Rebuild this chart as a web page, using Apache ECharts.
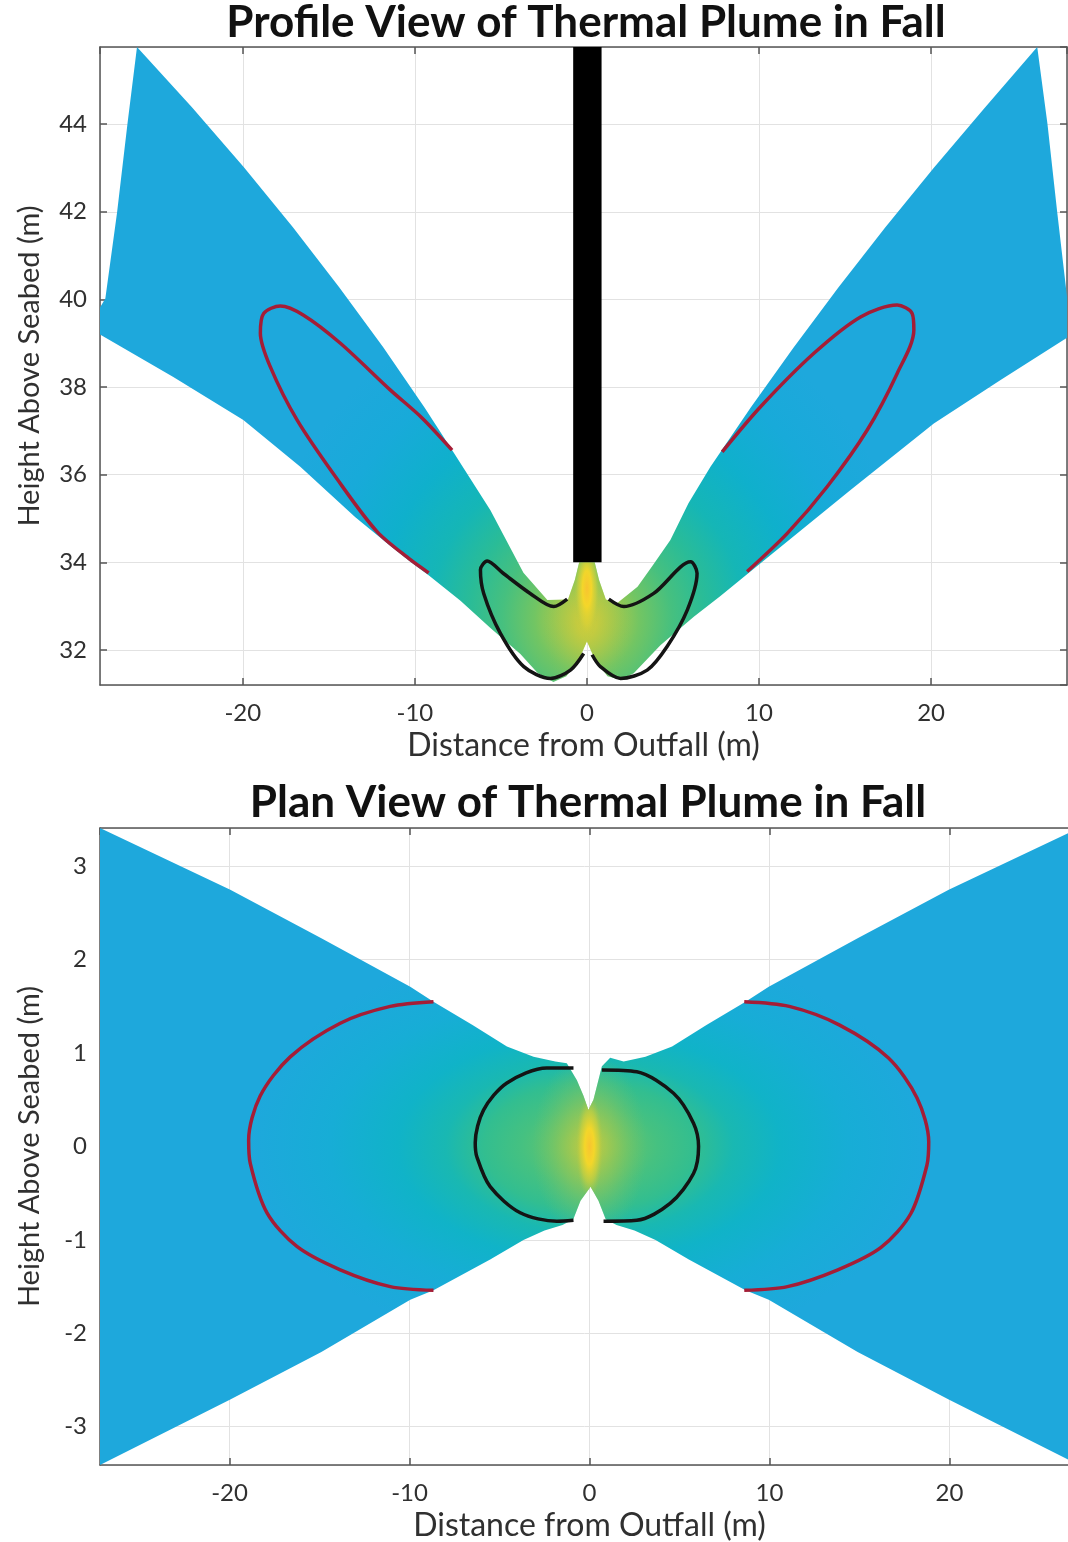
<!DOCTYPE html>
<html>
<head>
<meta charset="utf-8">
<script src="https://cdn.jsdelivr.net/npm/echarts@6/dist/echarts.min.js"></script>
<style>
  html, body { margin: 0; padding: 0; background: #fff; }
  #main { width: 1068px; height: 1542px; }
</style>
</head>
<body>
<div id="main"></div>
<script>
// ---- profile view (top panel), [distance m, height m] ----
var profilePlume = [
  // left arm, outer tip then lower edge
  [-26.15, 45.76], [-26.7, 44.02], [-27.31, 41.98], [-27.99, 40.02], [-28.4, 39.75], [-28.4, 39.22],
  [-24.04, 38.23], [-19.97, 37.25], [-16.66, 36.18], [-13.46, 35.03], [-11.42, 34.37],
  [-10.26, 34.01], [-9.22, 33.71], [-7.35, 33.12], [-5.61, 32.5], [-3.87, 31.91], [-2.88, 31.48],
  [-1.95, 31.27], [-1.2, 31.4], [-0.5, 31.75], [0, 32.2],
  // right arm, lower edge then outer tip
  [0.5, 31.75], [1.2, 31.4], [1.95, 31.32], [2.72, 31.47], [4.27, 32.11], [6.21, 32.76],
  [7.76, 33.23], [10.09, 33.98], [15.32, 35.65], [20.16, 37.17], [24.04, 38.16], [28.0, 39.15],
  [28.0, 39.7], [27.92, 39.99], [27.34, 41.96], [26.76, 44.02], [26.17, 45.76],
  // right arm inner edge down to the jet
  [23.11, 44.37], [20.15, 43.0], [17.31, 41.63], [14.59, 40.26], [11.99, 38.89], [9.5, 37.52],
  [7.18, 36.18], [5.9, 35.35], [4.85, 34.51], [3.81, 33.92], [2.94, 33.44],
  [1.77, 33.07], [1.1, 33.15], [0.7, 33.6], [0.45, 34.0],
  // jet, then left arm inner edge up to the tip
  [-0.45, 34.0], [-0.7, 33.6], [-1.1, 33.15], [-2.3, 33.14], [-3.69, 33.76], [-5.61, 35.19],
  [-7.72, 36.49], [-9.45, 37.54], [-11.84, 38.91], [-14.4, 40.28], [-17.1, 41.65],
  [-19.95, 43.02], [-22.97, 44.39]
];
var profileStackX = [-0.8, 0.85];
var profileStackY = [34.0, 45.8];
var profileRedLeft = [
  [-7.84, 36.56], [-9.6, 37.3], [-11.42, 37.93], [-14.33, 39.0], [-16.47, 39.64], [-17.82, 39.85],
  [-18.79, 39.68], [-18.98, 39.23], [-18.4, 38.46], [-16.85, 37.25], [-14.52, 35.9],
  [-12.2, 34.7], [-10.26, 34.06], [-9.2, 33.76]
];
var profileRedRight = [
  [7.86, 36.52], [10.09, 37.55], [13.19, 38.77], [15.9, 39.6], [18.03, 39.87], [18.9, 39.68],
  [19.0, 39.3], [18.03, 38.31], [16.29, 37.02], [13.97, 35.73], [11.64, 34.66], [9.31, 33.79]
];
var profileBlackLeft = [
  [-1.15, 33.16], [-1.93, 32.99], [-3.3, 33.29], [-4.87, 33.75], [-5.8, 34.03], [-6.19, 33.83],
  [-6.0, 33.29], [-5.03, 32.38], [-3.67, 31.62], [-2.12, 31.35], [-0.96, 31.54], [-0.19, 31.92]
];
var profileBlackRight = [
  [1.27, 33.16], [2.14, 32.99], [3.88, 33.29], [6.02, 34.01], [6.4, 33.75], [5.83, 32.91],
  [4.66, 32.08], [3.5, 31.54], [1.95, 31.35], [0.78, 31.62], [0.3, 31.89]
];
var profileCore = [0, 32.7];
var profileJet = [0, 33.4];

// ---- plan view (bottom panel), [distance m, offset m] ----
var planPlume = [
  [-27.2, 3.41], [-19.96, 2.75], [-14.9, 2.23], [-9.96, 1.71], [-8.67, 1.55], [-6.5, 1.3],
  [-4.59, 1.07], [-3.11, 0.96], [-1.9, 0.91], [-1.26, 0.89], [-0.7, 0.71], [-0.33, 0.54],
  [-0.06, 0.39], [0.22, 0.5], [0.69, 0.86], [1.15, 0.95], [1.9, 0.91], [3.11, 0.96],
  [4.59, 1.07], [6.5, 1.3], [8.67, 1.55], [9.96, 1.71], [14.9, 2.23], [19.96, 2.75], [27.2, 3.41],
  [27.2, -3.41], [19.96, -2.71], [14.9, -2.2], [9.96, -1.64], [8.67, -1.54], [5.52, -1.21],
  [3.67, -1.0], [2.5, -0.9], [1.5, -0.84], [0.9, -0.78], [0.5, -0.58], [0.06, -0.43],
  [-0.5, -0.58], [-0.9, -0.78], [-1.5, -0.84], [-2.5, -0.9], [-3.67, -1.0], [-5.52, -1.21],
  [-8.67, -1.54], [-9.96, -1.64], [-14.9, -2.2], [-19.96, -2.71], [-27.2, -3.41]
];
var planRedLeft = [
  [-8.67, 1.55], [-11.07, 1.5], [-13.85, 1.32], [-16.63, 0.96], [-18.3, 0.54], [-18.94, 0.07],
  [-18.85, -0.18], [-17.92, -0.71], [-16.26, -1.07], [-13.85, -1.32], [-11.07, -1.5], [-8.67, -1.54]
];
var planRedRight = [
  [8.6, 1.55], [11.1, 1.5], [13.9, 1.3], [16.6, 0.95], [18.2, 0.52], [18.85, 0.05],
  [18.75, -0.2], [17.85, -0.72], [16.2, -1.08], [13.8, -1.32], [11.0, -1.5], [8.6, -1.54]
];
var planBlackLeft = [
  [-0.89, 0.84], [-2.37, 0.84], [-4.59, 0.68], [-5.89, 0.39], [-6.35, 0.04], [-6.26, -0.11],
  [-5.52, -0.43], [-3.85, -0.71], [-1.81, -0.8], [-0.89, -0.79]
];
var planBlackRight = [
  [0.69, 0.82], [2.63, 0.8], [4.67, 0.57], [5.78, 0.25], [6.06, 0], [5.78, -0.29],
  [4.48, -0.61], [2.63, -0.79], [0.78, -0.8]
];
var planCore = [0, 0];

// colour ramps (parula-like)
var profileBase = [
  { offset: 0, color: '#d9cd36' }, { offset: 0.08, color: '#a9c94a' },
  { offset: 0.16, color: '#72c563' }, { offset: 0.26, color: '#46c07f' },
  { offset: 0.36, color: '#2abc97' }, { offset: 0.48, color: '#15b6b6' },
  { offset: 0.64, color: '#0fb0cc' }, { offset: 0.82, color: '#18aad9' },
  { offset: 1, color: '#1ea8dc' }
];
var planBase = [
  { offset: 0, color: '#86c75c' }, { offset: 0.1, color: '#5fc470' },
  { offset: 0.2, color: '#45c181' }, { offset: 0.31, color: '#32be90' },
  { offset: 0.42, color: '#19b8b2' }, { offset: 0.56, color: '#10b3c8' },
  { offset: 0.76, color: '#17add6' }, { offset: 1, color: '#1ea8dc' }
];
var warmGlow = [
  { offset: 0, color: 'rgba(215,205,55,0.85)' }, { offset: 0.5, color: 'rgba(170,200,75,0.45)' },
  { offset: 1, color: 'rgba(120,195,100,0)' }
];
var hotCore = [
  { offset: 0, color: 'rgba(248,196,48,1)' }, { offset: 0.35, color: 'rgba(247,215,40,0.95)' },
  { offset: 0.7, color: 'rgba(215,210,55,0.55)' }, { offset: 1, color: 'rgba(170,200,75,0)' }
];

var FONT = 'Lato';
var TXT = '#303030';

// polygon clipped to its outline, filled with an elliptical radial gradient
function shadedPolygon(outline, centre, radius, stops) {
  return function (params, api) {
    var c = api.coord(centre);
    var r = api.size(radius, centre);
    var s = r[0] / r[1];
    var pts = outline.map(function (p) {
      var q = api.coord(p);
      return [c[0] + (q[0] - c[0]) / s, q[1]];
    });
    return {
      type: 'polygon',
      originX: c[0],
      originY: c[1],
      scaleX: s,
      shape: { points: pts },
      style: { fill: new echarts.graphic.RadialGradient(c[0], c[1], r[1], stops, true) }
    };
  };
}

function stackItem(params, api) {
  var a = api.coord([profileStackX[0], profileStackY[1]]);
  var b = api.coord([profileStackX[1], profileStackY[0]]);
  return {
    type: 'rect',
    shape: { x: a[0], y: a[1], width: b[0] - a[0], height: b[1] - a[1] },
    style: { fill: '#000' }
  };
}

function xAxis(grid, min, max, show) {
  return {
    type: 'value', gridIndex: grid, position: show ? 'bottom' : 'top',
    min: min, max: max, splitNumber: 5,
    name: show ? 'Distance from Outfall (m)' : '',
    nameLocation: 'middle', nameGap: 45,
    nameTextStyle: { fontFamily: FONT, fontSize: 32, color: TXT },
    axisLine: { show: true, onZero: false, lineStyle: { color: '#555', width: 1.5 } },
    axisTick: { show: true, inside: true, length: 7, lineStyle: { color: '#555', width: 1.5 } },
    axisLabel: {
      show: show, margin: 16, showMinLabel: false, showMaxLabel: false,
      fontFamily: FONT, fontSize: 24, color: TXT
    },
    splitLine: { show: show, lineStyle: { color: '#e2e2e2', width: 1 } }
  };
}

function yAxis(grid, min, max, split, show) {
  return {
    type: 'value', gridIndex: grid, position: show ? 'left' : 'right',
    min: min, max: max, splitNumber: split,
    name: show ? 'Height Above Seabed (m)' : '',
    nameLocation: 'middle', nameGap: 56,
    nameTextStyle: { fontFamily: FONT, fontSize: 29, color: TXT },
    axisLine: { show: true, onZero: false, lineStyle: { color: '#555', width: 1.5 } },
    axisTick: { show: true, inside: true, length: 7, lineStyle: { color: '#555', width: 1.5 } },
    axisLabel: {
      show: show, margin: 13, showMinLabel: false, showMaxLabel: false,
      fontFamily: FONT, fontSize: 24, color: TXT
    },
    splitLine: { show: show, lineStyle: { color: '#e2e2e2', width: 1 } }
  };
}

function contour(data, xi, yi, color, width) {
  return {
    type: 'line', xAxisIndex: xi, yAxisIndex: yi, data: data,
    showSymbol: false, smooth: 0.3, clip: true, z: 5, silent: true,
    lineStyle: { color: color, width: width }
  };
}

function patch(renderItem, xi, yi, point, z) {
  return {
    type: 'custom', xAxisIndex: xi, yAxisIndex: yi, clip: true, z: z, silent: true,
    renderItem: renderItem, data: [point]
  };
}

var RED = '#a51d36';
var BLACK = '#141414';

var chart = echarts.init(document.getElementById('main'), null, { renderer: 'canvas' });
chart.setOption({
  animation: false,
  backgroundColor: '#fff',
  title: [
    {
      text: 'Profile View of Thermal Plume in Fall', left: 586, top: 1, padding: 0,
      textAlign: 'center',
      textStyle: { fontFamily: FONT, fontWeight: 'bold', fontSize: 44, color: '#111' }
    },
    {
      text: 'Plan View of Thermal Plume in Fall', left: 588, top: 781, padding: 0,
      textAlign: 'center',
      textStyle: { fontFamily: FONT, fontWeight: 'bold', fontSize: 44, color: '#111' }
    }
  ],
  grid: [
    { left: 100, top: 47, width: 967, height: 638, outerBoundsMode: 'none' },
    { left: 100, top: 828, width: 979, height: 637, outerBoundsMode: 'none' }
  ],
  xAxis: [
    xAxis(0, -28.3, 27.9, true), xAxis(0, -28.3, 27.9, false),
    xAxis(1, -27.2, 27.2, true), xAxis(1, -27.2, 27.2, false)
  ],
  yAxis: [
    yAxis(0, 31.2, 45.76, 7, true), yAxis(0, 31.2, 45.76, 7, false),
    yAxis(1, -3.41, 3.41, 5, true), yAxis(1, -3.41, 3.41, 5, false)
  ],
  series: [
    patch(shadedPolygon(profilePlume, profileCore, [19, 7.5], profileBase), 0, 0, profileCore, 1),
    patch(shadedPolygon(profilePlume, [0, 32.6], [2.6, 1.6], warmGlow), 0, 0, profileCore, 2),
    patch(shadedPolygon(profilePlume, profileJet, [0.75, 1.15], hotCore), 0, 0, profileJet, 3),
    patch(stackItem, 0, 0, profileJet, 6),
    contour(profileRedLeft, 0, 0, RED, 3.5),
    contour(profileRedRight, 0, 0, RED, 3.5),
    contour(profileBlackLeft, 0, 0, BLACK, 3.5),
    contour(profileBlackRight, 0, 0, BLACK, 3.5),

    patch(shadedPolygon(planPlume, planCore, [19, 2.2], planBase), 2, 2, planCore, 1),
    patch(shadedPolygon(planPlume, planCore, [3.2, 1.0], warmGlow), 2, 2, planCore, 2),
    patch(shadedPolygon(planPlume, planCore, [0.75, 0.55], hotCore), 2, 2, planCore, 3),
    contour(planRedLeft, 2, 2, RED, 3.5),
    contour(planRedRight, 2, 2, RED, 3.5),
    contour(planBlackLeft, 2, 2, BLACK, 3.5),
    contour(planBlackRight, 2, 2, BLACK, 3.5)
  ]
});
</script>
</body>
</html>
